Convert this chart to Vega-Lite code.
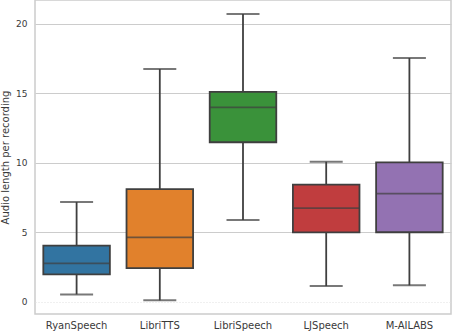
{
  "$schema": "https://vega.github.io/schema/vega-lite/v6.json",
  "width": 416,
  "height": 314,
  "autosize": "none",
  "padding": {"left": 35, "top": 0, "right": 1, "bottom": 18},
  "config": {
    "font": "DejaVu Sans",
    "view": {"stroke": "#cccccc", "strokeWidth": 1.5}
  },
  "data": {
    "values": [
      {"dataset": "RyanSpeech", "low": 0.53, "q1": 1.97, "median": 2.76, "q3": 4.03, "high": 7.17},
      {"dataset": "LibriTTS", "low": 0.1, "q1": 2.42, "median": 4.63, "q3": 8.1, "high": 16.74},
      {"dataset": "LibriSpeech", "low": 5.88, "q1": 11.47, "median": 13.98, "q3": 15.1, "high": 20.7},
      {"dataset": "LJSpeech", "low": 1.13, "q1": 4.99, "median": 6.74, "q3": 8.42, "high": 10.07},
      {"dataset": "M-AILABS", "low": 1.18, "q1": 5.0, "median": 7.77, "q3": 10.03, "high": 17.53}
    ]
  },
  "encoding": {
    "x": {
      "field": "dataset",
      "type": "nominal",
      "sort": null,
      "scale": {"paddingInner": 0.2, "paddingOuter": 0.1},
      "axis": {
        "title": null,
        "labelAngle": 0,
        "labelFontSize": 10,
        "labelColor": "#3a3a3a",
        "labelPadding": 6,
        "ticks": false,
        "domain": false,
        "grid": false
      }
    }
  },
  "layer": [
    {
      "mark": {"type": "rule", "color": "#3f3f3f", "strokeWidth": 1.8},
      "encoding": {
        "y": {
          "field": "low",
          "type": "quantitative",
          "scale": {"domain": [-0.88, 21.7], "nice": false, "zero": false},
          "axis": {
            "values": [0, 5, 10, 15, 20],
            "title": "Audio length per recording",
            "titleFontSize": 10,
            "titleFontWeight": "normal",
            "titleColor": "#3a3a3a",
            "titlePadding": 5,
            "labelFontSize": 9,
            "labelColor": "#3a3a3a",
            "labelPadding": 8,
            "ticks": false,
            "domain": false,
            "gridColor": {"condition": {"test": "datum.value === 0", "value": "#e0e0e0"}, "value": "#cccccc"},
            "gridDash": {"condition": {"test": "datum.value === 0", "value": [1, 2]}, "value": []},
            "gridWidth": 1
          }
        },
        "y2": {"field": "high"}
      }
    },
    {
      "mark": {"type": "tick", "color": "#3f3f3f", "size": 33, "thickness": 2},
      "encoding": {"y": {"field": "low", "type": "quantitative"}}
    },
    {
      "mark": {"type": "tick", "color": "#3f3f3f", "size": 33, "thickness": 2},
      "encoding": {"y": {"field": "high", "type": "quantitative"}}
    },
    {
      "mark": {"type": "bar", "stroke": "#3f3f3f", "strokeWidth": 1.8, "opacity": 1},
      "encoding": {
        "y": {"field": "q1", "type": "quantitative"},
        "y2": {"field": "q3"},
        "color": {
          "field": "dataset",
          "type": "nominal",
          "sort": null,
          "scale": {
            "domain": ["RyanSpeech", "LibriTTS", "LibriSpeech", "LJSpeech", "M-AILABS"],
            "range": ["#3274a1", "#e1812c", "#3a923a", "#c03d3e", "#9372b2"]
          },
          "legend": null
        }
      }
    },
    {
      "mark": {"type": "tick", "color": "#3f3f3f", "size": 66, "thickness": 1.8},
      "encoding": {"y": {"field": "median", "type": "quantitative"}}
    }
  ]
}
